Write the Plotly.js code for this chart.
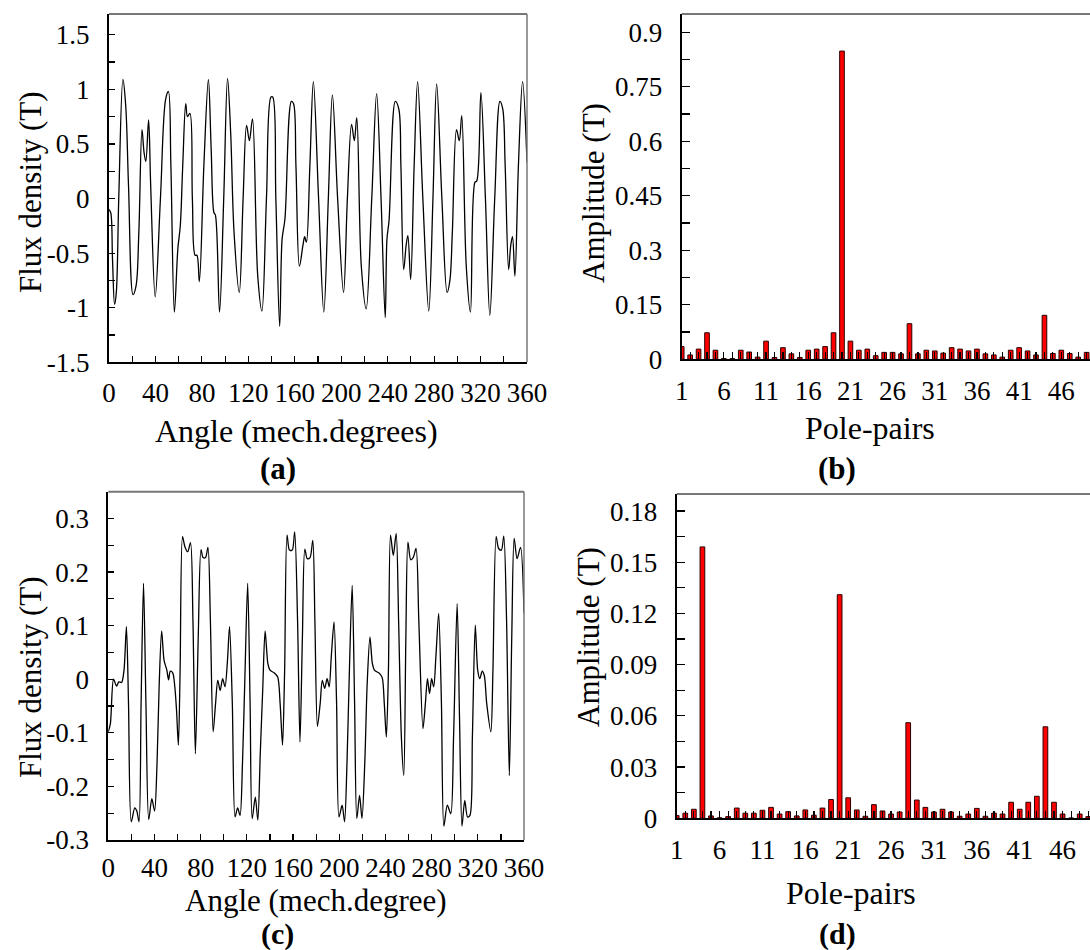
<!DOCTYPE html>
<html>
<head>
<meta charset="utf-8">
<script src="https://cdn.plot.ly/plotly-3.0.1.min.js"></script>
<style>html,body{margin:0;padding:0;background:#fff;}#chart{width:1090px;height:950px;}</style>
</head>
<body>
<div id="chart"></div>
<script>
// ---------- DATA ----------
// (a) air-gap flux density vs angle
const angleA = [0,1.5,3.0,4.8,6.3,8.4,12.0,14.4,16.8,20.7,
  23.3,25.7,28.4,30.2,31.7,34.1,35.9,39.8,44.3,48.8,
  51.2,53.3,56.3,59.3,61.4,63.5,66.1,67.6,69.7,71.8,
  74.2,75.7,77.8,81.7,85.6,88.0,90.4,91.6,95.2,98.8,
  102.1,104.8,107.7,112.2,115.5,118.5,120.9,123.6,128.1,131.7,
  135.6,139.5,141.0,143.7,147.0,149.1,151.5,157.1,158.9,161.0,
  164.0,167.0,168.5,170.0,173.0,176.0,180.5,185.0,188.9,192.4,
  196.9,202.0,205.3,208.9,211.3,213.4,217.3,221.5,226.3,230.5,
  234.3,237.9,239.4,241.2,246.6,249.6,251.4,253.8,255.9,257.4,
  259.8,262.8,265.8,270.3,275.4,279.0,282.2,286.7,291.2,293.6,
  295.7,299.3,301.7,303.8,307.7,311.3,315.2,316.7,320.3,324.2,
  328.0,332.2,336.7,339.1,341.2,344.2,346.0,347.5,349.6,352.6,
  356.2,360.0];
const fluxA = [-0.10,-0.13,-0.55,-0.97,-0.86,0.00,1.09,0.85,0.12,-0.88,
  -0.80,-0.31,0.63,0.42,0.34,0.72,0.12,-0.90,0.00,0.91,
  0.98,0.30,-1.04,-0.46,-0.25,0.30,0.87,0.75,0.78,0.00,
  -0.52,-0.52,-0.76,0.30,1.09,0.45,-0.13,-0.15,-1.04,0.00,
  1.10,0.60,-0.31,-0.86,0.00,0.67,0.53,0.73,-0.71,-1.03,
  0.00,0.93,0.93,0.00,-1.17,-0.37,-0.19,0.89,0.87,0.30,
  -0.62,-0.43,-0.35,-0.40,0.30,1.07,0.00,-1.04,0.00,0.95,
  0.00,-0.86,0.00,0.68,0.53,0.74,-0.62,-1.01,0.00,0.96,
  0.00,-1.09,-0.37,-0.20,0.89,0.82,0.30,-0.65,-0.43,-0.34,
  -0.74,0.30,1.07,0.00,-1.03,0.00,1.05,0.00,-0.86,-0.75,
  -0.31,0.63,0.53,0.76,-0.62,-1.04,0.15,0.16,0.97,0.00,
  -1.07,0.00,0.89,0.82,0.30,-0.65,-0.43,-0.35,-0.71,0.30,
  1.07,0.33];

// (c) flux density vs angle
const angleC = [0,1.8,4.5,7.2,9.1,11.5,13.6,15.7,17.5,19.9,
  22.9,24.7,26.6,28.4,30.5,32.6,35.0,37.7,40.1,42.2,
  44.1,46.2,48.3,50.7,52.2,53.7,55.8,57.6,59.1,60.7,
  62.2,64.3,66.4,68.8,71.2,73.3,75.4,77.9,80.3,82.1,
  84.2,86.3,88.4,90.8,92.9,94.8,96.9,99.0,101.1,103.2,
  105.0,107.4,109.8,112.0,114.1,116.2,118.3,120.7,122.8,124.6,
  127.3,129.5,131.6,133.7,135.8,138.2,140.0,143.6,146.7,148.8,
  150.9,152.7,154.8,156.9,159.3,161.4,163.9,166.0,168.1,170.2,
  172.3,174.7,177.1,178.9,181.1,183.5,185.3,187.4,189.5,191.3,
  193.1,195.5,197.7,199.8,202.5,204.6,206.7,208.8,211.2,213.3,
  215.2,217.6,219.7,222.1,224.2,226.6,228.7,230.5,234.8,237.2,
  239.0,240.8,242.6,244.4,246.8,249.3,251.4,253.8,255.9,257.7,
  259.5,261.9,264.0,266.5,268.9,272.5,274.6,276.4,278.2,280.0,
  281.8,283.7,286.1,288.5,290.6,293.6,296.6,299.0,302.1,304.2,
  306.3,308.7,311.1,313.2,315.3,317.8,319.9,321.7,323.8,325.6,
  327.7,331.3,333.1,335.9,338.0,340.4,342.5,344.9,347.3,349.4,
  351.5,354.0,357.0,360.0];
const fluxC = [-0.098,-0.083,0.000,-0.013,-0.005,-0.006,0.017,0.098,-0.045,-0.266,
  -0.240,-0.246,-0.266,-0.045,0.179,-0.045,-0.262,-0.223,-0.246,-0.157,
  -0.008,0.090,0.035,0.017,-0.001,0.015,0.012,-0.014,-0.058,-0.123,
  0.017,0.266,0.247,0.238,0.255,0.110,-0.139,0.079,0.242,0.227,
  0.227,0.246,0.110,-0.098,-0.045,-0.002,-0.021,0.001,-0.014,0.035,
  0.098,-0.045,-0.257,-0.240,-0.254,-0.157,0.004,0.179,-0.045,-0.260,
  -0.220,-0.263,-0.139,-0.021,0.090,0.029,0.017,0.012,0.004,-0.045,
  -0.123,0.017,0.269,0.241,0.241,0.275,0.110,-0.117,0.079,0.243,
  0.225,0.227,0.259,0.110,-0.088,-0.045,-0.002,-0.017,0.001,-0.014,
  0.042,0.107,-0.045,-0.257,-0.235,-0.266,-0.157,0.017,0.175,-0.045,
  -0.260,-0.217,-0.260,-0.157,-0.008,0.079,0.029,0.017,0.011,0.003,
  -0.045,-0.108,0.017,0.269,0.231,0.272,0.110,-0.108,-0.180,0.079,
  0.256,0.223,0.227,0.244,0.110,-0.092,-0.045,0.001,-0.027,0.001,
  -0.014,0.042,0.123,-0.045,-0.274,-0.235,-0.251,-0.108,0.141,-0.077,
  -0.274,-0.226,-0.257,-0.254,-0.108,0.101,0.017,0.001,0.015,0.007,
  -0.045,-0.098,0.017,0.266,0.244,0.241,0.267,0.110,-0.180,0.079,
  0.263,0.225,0.246,0.123];

// pole-pair orders for the spectra
const polePairs = [1,2,3,4,5,6,7,8,9,10,11,12,13,14,15,16,17,18,19,20,
  21,22,23,24,25,26,27,28,29,30,31,32,33,34,35,36,37,38,39,40,
  41,42,43,44,45,46,47,48,49];
// (b) harmonic amplitudes
const ampB = [0.035,0.012,0.028,0.073,0.025,0.002,0.002,0.025,0.020,0.006,
  0.050,0.005,0.032,0.015,0.005,0.025,0.028,0.035,0.073,0.848,
  0.050,0.025,0.028,0.010,0.019,0.019,0.015,0.098,0.015,0.025,
  0.023,0.017,0.032,0.028,0.023,0.028,0.015,0.012,0.006,0.025,
  0.032,0.023,0.012,0.121,0.016,0.025,0.016,0.006,0.019];
// (d) harmonic amplitudes
const ampD = [0.0016,0.0030,0.0053,0.159,0.0014,0.0003,0.0010,0.0060,0.0030,0.0030,
  0.0047,0.0064,0.0025,0.0039,0.0014,0.0049,0.0018,0.0060,0.0110,0.131,
  0.0120,0.0049,0.0012,0.0080,0.0043,0.0025,0.0037,0.056,0.0107,0.0064,
  0.0037,0.0053,0.0037,0.0012,0.0025,0.0058,0.0012,0.0030,0.0025,0.0094,
  0.0053,0.0094,0.0129,0.0536,0.0094,0.0025,0.0002,0.0025,0.0010];

// tick labels
const yTickValsA = [-1.5,-1,-0.5,0,0.5,1,1.5];
const yTickTextA = ['-1.5','-1','-0.5','0','0.5','1','1.5'];
const yTickValsC = [-0.3,-0.2,-0.1,0,0.1,0.2,0.3];
const yTickTextC = ['-0.3','-0.2','-0.1','0','0.1','0.2','0.3'];

// texts
const titles = {
  xA: 'Angle (mech.degrees)', xC: 'Angle (mech.degree)',
  xB: 'Pole-pairs', xD: 'Pole-pairs',
  yA: 'Flux density (T)', yC: 'Flux density (T)',
  yB: 'Amplitude (T)', yD: 'Amplitude (T)',
  a: '<b>(a)</b>', b: '<b>(b)</b>', c: '<b>(c)</b>', d: '<b>(d)</b>'
};

// ---------- STYLE / LAYOUT ----------
const W = 1090, H = 950;
const FONT = 'Liberation Serif';
const TICKSZ = 27, XTITLESZ = 32, YTITLESZ = 31, LABELSZ = 31;
const px = v => v / W;
const py = v => 1 - v / H;

function xAxisAngle(dom, anchor, standoff) {
  return {
    domain: dom, anchor: anchor, range: [0, 360], tickmode: 'linear', tick0: 0, dtick: 40,
    ticks: 'inside', ticklen: 6, tickwidth: 1.2, tickcolor: '#000',
    minor: {tickmode: 'linear', tick0: 0, dtick: 20, ticks: 'inside', ticklen: 6, tickwidth: 1.2, tickcolor: '#000'},
    showline: true, linecolor: '#000', linewidth: 2, showgrid: false, zeroline: false,
    tickfont: {family: FONT, size: TICKSZ, color: '#000'}, ticklabelstandoff: standoff, fixedrange: true
  };
}
function xAxisPole(dom, anchor, rmax) {
  return {
    domain: dom, anchor: anchor, range: [1, rmax], tickmode: 'linear', tick0: 1, dtick: 5,
    ticks: 'inside', ticklen: 7, tickwidth: 1.2, tickcolor: '#000',
    minor: {tickmode: 'linear', tick0: 1, dtick: 1, ticks: 'inside', ticklen: 7, tickwidth: 1.2, tickcolor: '#000'},
    showline: true, linecolor: '#000', linewidth: 2, showgrid: false, zeroline: false,
    tickfont: {family: FONT, size: TICKSZ, color: '#000'}, ticklabelstandoff: 6, fixedrange: true
  };
}
function yAxisArr(dom, anchor, range, vals, text, minorD) {
  return {
    domain: dom, anchor: anchor, range: range, tickmode: 'array', tickvals: vals, ticktext: text,
    ticks: 'inside', ticklen: 6, tickwidth: 1.2, tickcolor: '#000',
    minor: {tickmode: 'linear', tick0: 0, dtick: minorD, ticks: 'inside', ticklen: 6, tickwidth: 1.2, tickcolor: '#000'},
    showline: true, linecolor: '#000', linewidth: 2, showgrid: false, zeroline: false,
    tickfont: {family: FONT, size: TICKSZ, color: '#000'}, ticklabelstandoff: 12, fixedrange: true
  };
}
function yAxisLin(dom, anchor, range, dtick) {
  return {
    domain: dom, anchor: anchor, range: range, tickmode: 'linear', tick0: 0, dtick: dtick,
    ticks: 'inside', ticklen: 8, tickwidth: 1.2, tickcolor: '#000',
    minor: {tickmode: 'linear', tick0: 0, dtick: dtick / 2, ticks: 'inside', ticklen: 8, tickwidth: 1.2, tickcolor: '#000'},
    showline: true, linecolor: '#000', linewidth: 2, showgrid: false, zeroline: false,
    tickfont: {family: FONT, size: TICKSZ, color: '#000'}, ticklabelstandoff: 12, fixedrange: true
  };
}

const traces = [
  {x: angleA, y: fluxA, type: 'scatter', mode: 'lines', xaxis: 'x', yaxis: 'y',
   line: {color: '#000', width: 1.3, shape: 'spline', smoothing: 1}, hoverinfo: 'skip'},
  {x: polePairs, y: ampB, type: 'bar', xaxis: 'x2', yaxis: 'y2', width: 0.55,
   marker: {color: '#ff0000', line: {color: '#2a0000', width: 1}}, hoverinfo: 'skip'},
  {x: angleC, y: fluxC, type: 'scatter', mode: 'lines', xaxis: 'x3', yaxis: 'y3',
   line: {color: '#000', width: 1.3, shape: 'spline', smoothing: 0.8}, hoverinfo: 'skip'},
  {x: polePairs, y: ampD, type: 'bar', xaxis: 'x4', yaxis: 'y4', width: 0.55,
   marker: {color: '#ff0000', line: {color: '#2a0000', width: 1}}, hoverinfo: 'skip'}
];

const domA = {x: [px(109), px(527)], y: [py(362.3), py(14)]};
const domB = {x: [px(681.7), 1], y: [py(359.3), py(14)]};
const domC = {x: [px(108.3), px(524)], y: [py(840), py(491.7)]};
const domD = {x: [px(676.7), 1], y: [py(818.3), py(494)]};

function frame(xr, yr, withRight) {
  const s = [{type: 'line', xref: xr + ' domain', yref: yr + ' domain', x0: 0, x1: 1, y0: 1, y1: 1,
              line: {color: '#777', width: 2}}];
  if (withRight) s.push({type: 'line', xref: xr + ' domain', yref: yr + ' domain', x0: 1, x1: 1, y0: 0, y1: 1,
              line: {color: '#777', width: 1.5}});
  return s;
}

function ann(text, x, y, size, opts) {
  return Object.assign({text: text, xref: 'paper', yref: 'paper', x: px(x), y: py(y),
    xanchor: 'center', yanchor: 'middle', showarrow: false, borderpad: 0,
    font: {family: FONT, size: size, color: '#000'}}, opts || {});
}

const layout = {
  width: W, height: H, margin: {l: 0, r: 0, t: 0, b: 0},
  font: {family: FONT, color: '#000'},
  paper_bgcolor: '#fff', plot_bgcolor: '#fff', showlegend: false, bargap: 0,
  xaxis: xAxisAngle(domA.x, 'y', 5),
  yaxis: yAxisArr(domA.y, 'x', [-1.5, 1.69], yTickValsA, yTickTextA, 0.25),
  xaxis2: xAxisPole(domB.x, 'y2', 49.4),
  yaxis2: yAxisLin(domB.y, 'x2', [0, 0.95], 0.15),
  xaxis3: xAxisAngle(domC.x, 'y3', 3),
  yaxis3: yAxisArr(domC.y, 'x3', [-0.3, 0.35], yTickValsC, yTickTextC, 0.05),
  xaxis4: xAxisPole(domD.x, 'y4', 49.2),
  yaxis4: yAxisLin(domD.y, 'x4', [0, 0.19], 0.03),
  shapes: [].concat(frame('x', 'y', true), frame('x2', 'y2', false), frame('x3', 'y3', true), frame('x4', 'y4', false)),
  annotations: [
    ann(titles.xA, 296, 431, XTITLESZ),
    ann(titles.yA, 30, 192, YTITLESZ, {textangle: -90}),
    ann(titles.a, 278, 469, LABELSZ),
    ann(titles.xB, 870, 428, XTITLESZ),
    ann(titles.yB, 593, 193, YTITLESZ, {textangle: -90}),
    ann(titles.b, 837, 469, LABELSZ),
    ann(titles.xC, 316, 900, 31),
    ann(titles.yC, 30, 677, YTITLESZ, {textangle: -90}),
    ann(titles.c, 277, 952, 30, {yanchor: 'bottom'}),
    ann(titles.xD, 851, 893, XTITLESZ),
    ann(titles.yD, 588, 637, YTITLESZ, {textangle: -90}),
    ann(titles.d, 837, 952, 30, {yanchor: 'bottom'})
  ]
};

Plotly.newPlot('chart', traces, layout, {staticPlot: true, displayModeBar: false});
</script>
</body>
</html>
